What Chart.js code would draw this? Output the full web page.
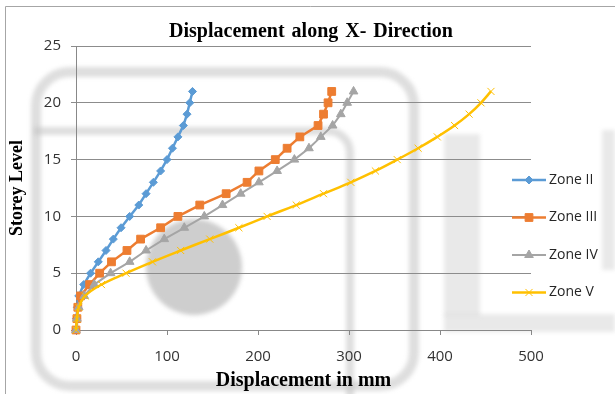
<!DOCTYPE html>
<html>
<head>
<meta charset="utf-8">
<script src="https://cdn.jsdelivr.net/npm/chart.js@4.4.0/dist/chart.umd.min.js"></script>
<style>
  html, body { margin: 0; padding: 0; background: #fff; }
  #wrap { width: 615px; height: 394px; position: relative; }
</style>
</head>
<body>
<div id="wrap"><canvas id="displacementChart"></canvas></div>
<script>
// Storey displacement data
const storeyLevels = [0, 1, 2, 3, 4, 5, 6, 7, 8, 9, 10, 11, 12, 13, 14, 15, 16, 17, 18, 19, 20, 21];
const zoneII  = [0, 0.5, 1.5, 3, 8.5, 16, 24.5, 33, 41, 49.5, 59, 69, 77, 85, 93, 100, 106, 112, 118, 122, 125, 128];
const zoneIII = [0, 1, 2, 5, 15, 26, 39, 56, 71, 93, 112, 136, 165, 188, 201, 219, 232, 246, 266, 272, 277, 281];
const zoneIV  = [0, 1, 3, 9, 20, 38, 59, 77, 97, 119, 141, 161, 181, 201, 221, 240, 256, 269, 282, 291, 298, 305];
const zoneV   = [0, 1, 3, 10, 28, 55, 84, 115, 147, 179, 210, 242, 272, 302, 329, 353, 376, 397, 416, 432, 445, 456];
const xTicks = [0, 100, 200, 300, 400, 500];
const yTicks = [0, 5, 10, 15, 20, 25];
const seriesNames = ['Zone II', 'Zone III', 'Zone IV', 'Zone V'];

const toPoints = vals => vals.map((v, i) => ({ x: v, y: storeyLevels[i] }));

// faint watermark + frame behind everything
const backdrop = {
    id: 'backdrop',
    beforeDraw(chart) {
        const ctx = chart.ctx;
        ctx.save();
        ctx.fillStyle = '#fff';
        ctx.fillRect(0, 0, chart.width, chart.height);
        ctx.filter = 'blur(2px)';
        ctx.strokeStyle = 'rgba(190,190,190,0.5)';
        ctx.lineWidth = 10;
        ctx.beginPath();
        ctx.roundRect(36, 72, 378, 314, 34);
        ctx.stroke();
        ctx.lineWidth = 8;
        ctx.beginPath();
        ctx.moveTo(34, 131);
        ctx.lineTo(328, 131);
        ctx.arcTo(350, 131, 350, 160, 22);
        ctx.lineTo(350, 400);
        ctx.stroke();
        ctx.fillStyle = 'rgba(190,190,190,0.75)';
        ctx.beginPath();
        ctx.arc(194, 267, 48, 0, Math.PI * 2);
        ctx.fill();
        ctx.fillStyle = 'rgba(200,200,200,0.4)';
        ctx.fillRect(444, 134, 36, 182);
        ctx.fillRect(444, 314, 171, 18);
        ctx.fillRect(602, 130, 13, 140);
        ctx.restore();

        ctx.save();
        ctx.strokeStyle = '#a6a6a6';
        ctx.lineWidth = 1;
        ctx.beginPath();
        ctx.moveTo(5.5, 394);
        ctx.lineTo(5.5, 6.5);
        ctx.lineTo(615, 6.5);
        ctx.stroke();
        ctx.restore();
    }
};

// title and line+marker legend drawn like the original
const decorations = {
    id: 'decorations',
    afterDraw(chart) {
        const ctx = chart.ctx;
        ctx.save();
        ctx.fillStyle = '#000';
        ctx.font = 'bold 20px "Liberation Serif"';
        ctx.wordSpacing = '2px';
        ctx.textAlign = 'center';
        ctx.textBaseline = 'middle';
        ctx.fillText('Displacement along X- Direction', 311, 32);
        ctx.wordSpacing = '0px';

        chart.data.datasets.forEach((ds, i) => {
            const y = 180 + i * 37.5;
            ctx.strokeStyle = ds.borderColor;
            ctx.lineWidth = ds.borderWidth;
            ctx.beginPath();
            ctx.moveTo(512, y);
            ctx.lineTo(546, y);
            ctx.stroke();
            ctx.fillStyle = ds.pointBackgroundColor;
            ctx.strokeStyle = ds.pointBorderColor;
            ctx.lineWidth = ds.pointBorderWidth;
            Chart.helpers.drawPoint(ctx, {
                pointStyle: ds.pointStyle, radius: ds.pointRadius,
                rotation: 0, borderWidth: ds.pointBorderWidth
            }, 529, y);
            ctx.fillStyle = '#262626';
            ctx.font = '14px "Open Sans"';
            ctx.textAlign = 'left';
            ctx.fillText(ds.label, 549, y);
        });
        ctx.restore();
    }
};

function makeSeries(label, vals, color, style, radius, order, extra) {
    return Object.assign({
        label: label,
        data: toPoints(vals),
        showLine: true,
        borderColor: color,
        backgroundColor: color,
        borderWidth: 2.5,
        pointStyle: style,
        pointRadius: radius,
        pointBackgroundColor: color,
        pointBorderColor: color,
        pointBorderWidth: 1,
        tension: 0,
        clip: false,
        order: order
    }, extra || {});
}

const ctx = document.getElementById('displacementChart').getContext('2d');
new Chart(ctx, {
    type: 'scatter',
    data: {
        datasets: [
            makeSeries(seriesNames[0], zoneII, '#5B9BD5', 'rectRot', 4, 3),
            makeSeries(seriesNames[1], zoneIII, '#ED7D31', 'rect', 5.5, 2),
            makeSeries(seriesNames[2], zoneIV, '#A5A5A5', 'triangle', 5, 1, { borderWidth: 2 }),
            makeSeries(seriesNames[3], zoneV, '#FFC000', 'crossRot', 5, 0, { tension: 0.4 })
        ]
    },
    options: {
        responsive: true,
        maintainAspectRatio: false,
        animation: false,
        devicePixelRatio: 1,
        layout: { padding: { top: 46, right: 84, left: 0, bottom: 0 } },
        plugins: {
            legend: { display: false },
            title: { display: false },
            tooltip: { enabled: false }
        },
        scales: {
            x: {
                type: 'linear',
                min: 0,
                max: 500,
                afterBuildTicks: s => { s.ticks = xTicks.map(v => ({ value: v })); },
                afterFit: s => { s.height = 64; },
                ticks: { color: '#333', font: { family: 'Open Sans', size: 15 }, padding: 13 },
                grid: { drawOnChartArea: false, drawTicks: true, tickLength: 5, color: '#888' },
                border: { color: '#888' },
                title: {
                    display: true,
                    text: 'Displacement in mm',
                    color: '#000',
                    font: { family: 'Liberation Serif', size: 20, weight: 'bold' },
                    padding: { top: 0, bottom: 1 }
                }
            },
            y: {
                type: 'linear',
                min: 0,
                max: 25,
                afterBuildTicks: s => { s.ticks = yTicks.map(v => ({ value: v })); },
                afterFit: s => { s.width = 76; },
                ticks: { color: '#333', font: { family: 'Open Sans', size: 15 }, padding: 10 },
                grid: { color: '#8c8c8c', tickLength: 5 },
                border: { color: '#888' },
                title: {
                    display: true,
                    text: 'Storey Level',
                    color: '#000',
                    font: { family: 'Liberation Serif', size: 18, weight: 'bold' },
                    padding: { top: 7, bottom: 0 }
                }
            }
        }
    },
    plugins: [backdrop, decorations]
});
</script>
</body>
</html>
